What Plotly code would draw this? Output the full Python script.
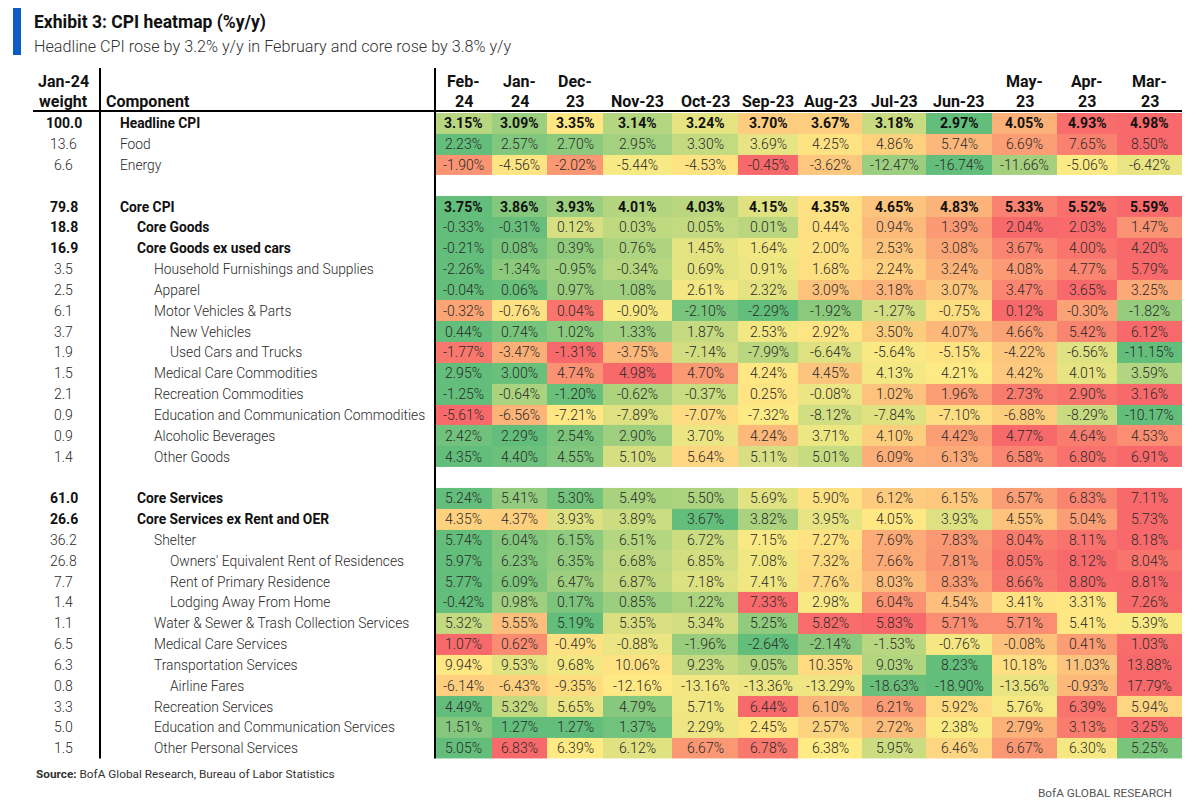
import numpy as np
import plotly.graph_objects as go

# ---------------- data ----------------
months = ["Feb-24", "Jan-24", "Dec-23", "Nov-23", "Oct-23", "Sep-23",
          "Aug-23", "Jul-23", "Jun-23", "May-23", "Apr-23", "Mar-23"]

components = [
    "Headline CPI", "Food", "Energy",
    "Core CPI", "Core Goods", "Core Goods ex used cars",
    "Household Furnishings and Supplies", "Apparel", "Motor Vehicles & Parts",
    "New Vehicles", "Used Cars and Trucks", "Medical Care Commodities",
    "Recreation Commodities", "Education and Communication Commodities",
    "Alcoholic Beverages", "Other Goods",
    "Core Services", "Core Services ex Rent and OER", "Shelter",
    "Owners' Equivalent Rent of Residences", "Rent of Primary Residence",
    "Lodging Away From Home", "Water & Sewer & Trash Collection Services",
    "Medical Care Services", "Transportation Services", "Airline Fares",
    "Recreation Services", "Education and Communication Services",
    "Other Personal Services",
]

weights = ["100.0", "13.6", "6.6",
           "79.8", "18.8", "16.9", "3.5", "2.5", "6.1", "3.7", "1.9", "1.5",
           "2.1", "0.9", "0.9", "1.4",
           "61.0", "26.6", "36.2", "26.8", "7.7", "1.4", "1.1", "6.5", "6.3",
           "0.8", "3.3", "5.0", "1.5"]

headline_cpi = [3.15, 3.09, 3.35, 3.14, 3.24, 3.70, 3.67, 3.18, 2.97, 4.05, 4.93, 4.98]
food = [2.23, 2.57, 2.70, 2.95, 3.30, 3.69, 4.25, 4.86, 5.74, 6.69, 7.65, 8.50]
energy = [-1.90, -4.56, -2.02, -5.44, -4.53, -0.45, -3.62, -12.47, -16.74, -11.66, -5.06, -6.42]
core_cpi = [3.75, 3.86, 3.93, 4.01, 4.03, 4.15, 4.35, 4.65, 4.83, 5.33, 5.52, 5.59]
core_goods = [-0.33, -0.31, 0.12, 0.03, 0.05, 0.01, 0.44, 0.94, 1.39, 2.04, 2.03, 1.47]
core_goods_ex_used = [-0.21, 0.08, 0.39, 0.76, 1.45, 1.64, 2.00, 2.53, 3.08, 3.67, 4.00, 4.20]
household = [-2.26, -1.34, -0.95, -0.34, 0.69, 0.91, 1.68, 2.24, 3.24, 4.08, 4.77, 5.79]
apparel = [-0.04, 0.06, 0.97, 1.08, 2.61, 2.32, 3.09, 3.18, 3.07, 3.47, 3.65, 3.25]
motor_vehicles = [-0.32, -0.76, 0.04, -0.90, -2.10, -2.29, -1.92, -1.27, -0.75, 0.12, -0.30, -1.82]
new_vehicles = [0.44, 0.74, 1.02, 1.33, 1.87, 2.53, 2.92, 3.50, 4.07, 4.66, 5.42, 6.12]
used_cars = [-1.77, -3.47, -1.31, -3.75, -7.14, -7.99, -6.64, -5.64, -5.15, -4.22, -6.56, -11.15]
medical_commod = [2.95, 3.00, 4.74, 4.98, 4.70, 4.24, 4.45, 4.13, 4.21, 4.42, 4.01, 3.59]
recreation_commod = [-1.25, -0.64, -1.20, -0.62, -0.37, 0.25, -0.08, 1.02, 1.96, 2.73, 2.90, 3.16]
education_commod = [-5.61, -6.56, -7.21, -7.89, -7.07, -7.32, -8.12, -7.84, -7.10, -6.88, -8.29, -10.17]
alcoholic = [2.42, 2.29, 2.54, 2.90, 3.70, 4.24, 3.71, 4.10, 4.42, 4.77, 4.64, 4.53]
other_goods = [4.35, 4.40, 4.55, 5.10, 5.64, 5.11, 5.01, 6.09, 6.13, 6.58, 6.80, 6.91]
core_services = [5.24, 5.41, 5.30, 5.49, 5.50, 5.69, 5.90, 6.12, 6.15, 6.57, 6.83, 7.11]
core_services_ex = [4.35, 4.37, 3.93, 3.89, 3.67, 3.82, 3.95, 4.05, 3.93, 4.55, 5.04, 5.73]
shelter = [5.74, 6.04, 6.15, 6.51, 6.72, 7.15, 7.27, 7.69, 7.83, 8.04, 8.11, 8.18]
oer = [5.97, 6.23, 6.35, 6.68, 6.85, 7.08, 7.32, 7.66, 7.81, 8.05, 8.12, 8.04]
rent = [5.77, 6.09, 6.47, 6.87, 7.18, 7.41, 7.76, 8.03, 8.33, 8.66, 8.80, 8.81]
lodging = [-0.42, 0.98, 0.17, 0.85, 1.22, 7.33, 2.98, 6.04, 4.54, 3.41, 3.31, 7.26]
water = [5.32, 5.55, 5.19, 5.35, 5.34, 5.25, 5.82, 5.83, 5.71, 5.71, 5.41, 5.39]
medical_services = [1.07, 0.62, -0.49, -0.88, -1.96, -2.64, -2.14, -1.53, -0.76, -0.08, 0.41, 1.03]
transportation = [9.94, 9.53, 9.68, 10.06, 9.23, 9.05, 10.35, 9.03, 8.23, 10.18, 11.03, 13.88]
airline = [-6.14, -6.43, -9.35, -12.16, -13.16, -13.36, -13.29, -18.63, -18.90, -13.56, -0.93, 17.79]
recreation_services = [4.49, 5.32, 5.65, 4.79, 5.71, 6.44, 6.10, 6.21, 5.92, 5.76, 6.39, 5.94]
education_services = [1.51, 1.27, 1.27, 1.37, 2.29, 2.45, 2.57, 2.72, 2.38, 2.79, 3.13, 3.25]
other_personal = [5.05, 6.83, 6.39, 6.12, 6.67, 6.78, 6.38, 5.95, 6.46, 6.67, 6.30, 5.25]

row_values = [headline_cpi, food, energy, core_cpi, core_goods, core_goods_ex_used,
              household, apparel, motor_vehicles, new_vehicles, used_cars,
              medical_commod, recreation_commod, education_commod, alcoholic,
              other_goods, core_services, core_services_ex, shelter, oer, rent,
              lodging, water, medical_services, transportation, airline,
              recreation_services, education_services, other_personal]

# ---------------- layout / style ----------------
W, H = 1196, 808
PAGE_OFF = 8              # the page body margin shifts the figure by this many px
FONT = "Roboto, 'Liberation Sans', Arial, sans-serif"
TXT = "#2a2a2a"
COL_W = [57, 55, 56, 69, 66, 60, 64, 64, 66, 65, 60, 65]   # column widths (px)
X0 = 435                  # left edge of the coloured grid (px)
ROW_Y0, ROW_H = 123.3, 20.83  # centre of first row, row pitch (px)
WRAP = {"Feb-24", "Jan-24", "Dec-23", "May-23", "Apr-23", "Mar-23"}
SPACER_AFTER = {"Energy", "Other Goods"}
BOLD = {"Headline CPI", "Core CPI", "Core Goods", "Core Goods ex used cars",
        "Core Services", "Core Services ex Rent and OER"}
BOLD_VALUES = {"Headline CPI", "Core CPI"}
INDENT = {"Core Goods": 1, "Core Goods ex used cars": 1, "Core Services": 1,
          "Core Services ex Rent and OER": 1,
          "Household Furnishings and Supplies": 2, "Apparel": 2,
          "Motor Vehicles & Parts": 2, "Medical Care Commodities": 2,
          "Recreation Commodities": 2, "Education and Communication Commodities": 2,
          "Alcoholic Beverages": 2, "Other Goods": 2, "Shelter": 2,
          "Water & Sewer & Trash Collection Services": 2, "Medical Care Services": 2,
          "Transportation Services": 2, "Recreation Services": 2,
          "Education and Communication Services": 2, "Other Personal Services": 2,
          "New Vehicles": 3, "Used Cars and Trucks": 3,
          "Owners' Equivalent Rent of Residences": 3, "Rent of Primary Residence": 3,
          "Lodging Away From Home": 3, "Airline Fares": 3}
INDENT_X0, INDENT_STEP = 118, 16.8


def px(x):
    return (x - PAGE_OFF) / W


def py(y):
    return 1 - (y - PAGE_OFF) / H


# build the displayed rows (with spacer rows)
rows = []
for comp, wt, vals in zip(components, weights, row_values):
    rows.append((comp, wt, vals))
    if comp in SPACER_AFTER:
        rows.append(None)
n_rows = len(rows)


def excel_3color(vals):
    v = np.asarray(vals, dtype=float)
    lo, hi, med = v.min(), v.max(), np.percentile(v, 50)
    out = np.where(v <= med,
                   0.5 * (v - lo) / (med - lo),
                   0.5 + 0.5 * (v - med) / (hi - med))
    return out.tolist()


z = []
for r in rows:
    z.append([None] * len(months) if r is None else excel_3color(r[2]))

x_edges = np.concatenate([[0], np.cumsum(COL_W)]).tolist()
x_cent = [(a + b) / 2 for a, b in zip(x_edges[:-1], x_edges[1:])]
total_w = x_edges[-1]

fig = go.Figure()
fig.add_trace(go.Heatmap(
    z=z, x=x_edges, y=list(range(n_rows)),
    colorscale=[[0, "#63BE7B"], [0.5, "#FFEB84"], [1, "#F8696B"]],
    zmin=0, zmax=1, showscale=False, hoverinfo="skip", xgap=0, ygap=0,
))

ann = []


def A(**kw):
    kw.setdefault("showarrow", False)
    kw.setdefault("xanchor", "center")
    kw.setdefault("yanchor", "middle")
    ann.append(kw)


LIGHT = 300
# values, weights, components
for i, r in enumerate(rows):
    if r is None:
        continue
    comp, wt, vals = r
    b = comp in BOLD_VALUES
    for j, v in enumerate(vals):
        t = f"{v:.2f}%"
        A(x=x_cent[j], y=i, xref="x", yref="y", text=f"<b>{t}</b>" if b else t,
          font=dict(family=FONT, size=14, color="#111" if b else TXT,
                    weight="normal" if b else LIGHT))
    bw = comp in BOLD
    A(x=px(64), y=i, xref="paper", yref="y", text=f"<b>{wt}</b>" if bw else wt,
      font=dict(family=FONT, size=14, color="#111" if bw else TXT,
                weight="normal" if bw else LIGHT))
    A(x=px(INDENT_X0 + INDENT.get(comp, 0) * INDENT_STEP), y=i, xref="paper", yref="y",
      text=f"<b>{comp}</b>" if bw else comp, xanchor="left",
      font=dict(family=FONT, size=13.8, color="#111" if bw else TXT,
                weight="normal" if bw else LIGHT))

# column headers
HDR1, HDR2 = 81.7, 101.7
hfont = dict(family=FONT, size=16, color="#111")
for j, m in enumerate(months):
    if m in WRAP:
        a, b = m.split("-")
        A(x=x_cent[j], y=py(HDR1), xref="x", yref="paper", text=f"<b>{a}-</b>", font=hfont)
        A(x=x_cent[j], y=py(HDR2), xref="x", yref="paper", text=f"<b>{b}</b>", font=hfont)
    else:
        A(x=x_cent[j], y=py(HDR2), xref="x", yref="paper", text=f"<b>{m}</b>", font=hfont)
A(x=px(64), y=py(HDR1), xref="paper", yref="paper", text="<b>Jan-24</b>", font=hfont)
A(x=px(64), y=py(HDR2), xref="paper", yref="paper", text="<b>weight</b>", font=hfont)
A(x=px(104), y=py(HDR2), xref="paper", yref="paper", text="<b>Component</b>",
  xanchor="left", font=hfont)

# title, subtitle, source, branding
A(x=px(32), y=py(22), xref="paper", yref="paper",
  text="<b>Exhibit 3: CPI heatmap (%y/y)</b>", xanchor="left",
  font=dict(family=FONT, size=17.5, color="#111"))
A(x=px(32), y=py(46), xref="paper", yref="paper",
  text="Headline CPI rose by 3.2% y/y in February and core rose by 3.8% y/y",
  xanchor="left", font=dict(family=FONT, size=16.2, color="#333", weight=LIGHT))
A(x=px(34), y=py(774), xref="paper", yref="paper",
  text="<b>Source:</b> BofA Global Research, Bureau of Labor Statistics",
  xanchor="left", font=dict(family=FONT, size=11.8, color="#333"))
A(x=px(1174), y=py(793), xref="paper", yref="paper",
  text="BofA GLOBAL RESEARCH", xanchor="right",
  font=dict(family=FONT, size=11.8, color="#555"))

grid_top = ROW_Y0 - ROW_H / 2
grid_bot = ROW_Y0 + ROW_H * (n_rows - 0.5)
shapes = [
    dict(type="rect", xref="paper", yref="paper", x0=px(13), x1=px(21), y0=py(55), y1=py(7),
         fillcolor="#0B5CC8", line=dict(width=0)),
    dict(type="line", xref="paper", yref="paper", x0=px(33), x1=px(X0 + total_w),
         y0=py(111), y1=py(111), line=dict(color="#000", width=2)),
    dict(type="line", xref="paper", yref="paper", x0=px(100), x1=px(100),
         y0=py(68), y1=py(grid_bot), line=dict(color="#000", width=2)),
    dict(type="line", xref="paper", yref="paper", x0=px(X0), x1=px(X0),
         y0=py(68), y1=py(grid_bot), line=dict(color="#000", width=2)),
]

fig.update_layout(
    width=W, height=H, margin=dict(l=0, r=0, t=0, b=0),
    paper_bgcolor="white", plot_bgcolor="white",
    xaxis=dict(domain=[px(X0), px(X0 + total_w)], range=[0, total_w], visible=False,
               fixedrange=True),
    yaxis=dict(domain=[py(grid_bot), py(grid_top)], range=[n_rows - 0.5, -0.5],
               visible=False, fixedrange=True),
    annotations=ann, shapes=shapes, showlegend=False,
)

fig.write_html("out.html")
